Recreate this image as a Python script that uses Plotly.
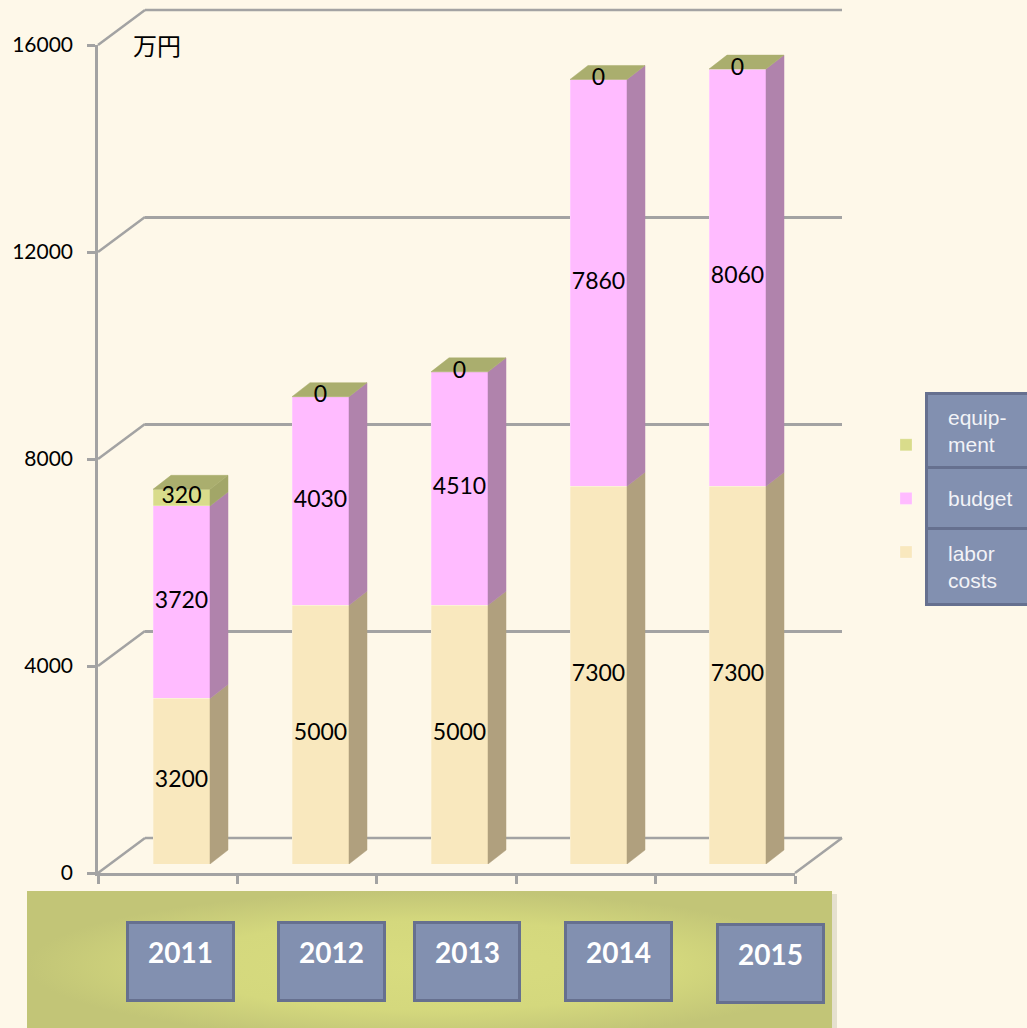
import plotly.graph_objects as go

# ---------------- data ----------------
years = ["2011", "2012", "2013", "2014", "2015"]
labor = [3200, 5000, 5000, 7300, 7300]
budget = [3720, 4030, 4510, 7860, 8060]
equipment = [320, 0, 0, 0, 0]
series_names = ["人件費", "運営費", "設備費"]
overlay_names = ["labor<br>costs", "budget", "equip-<br>ment"]
y_ticks = [0, 4000, 8000, 12000, 16000]
y_tick_text = ["0", "4000", "8000", "12000", "16000"]
unit_label = "万円"

# ---------------- geometry / style ----------------
W, H = 1027, 1028
Y_MAX = 16000
FRONT_Y0, FRONT_Y1 = 873, 45           # pixel rows of 0 and Y_MAX on the front axis
K = (FRONT_Y0 - FRONT_Y1) / Y_MAX       # px per unit
FRONT_X0, FRONT_X1 = 98, 795
BACK_X0, BACK_X1 = 145, 842
BACK_SHIFT = 35
BAR_X0, BAR_X1 = 112, 807
BAR_SHIFT = 9
BAR_W = 0.41
DEPTH_PX = (18, 14)

BG = "#FEF8E9"
GRID = "#A3A3A3"
FRONT_COLORS = ["#F9E8BE", "#FFBBFF", "#D9DC8B"]
SIDE_COLORS = ["#B0A07E", "#B083AC", "#A2A668"]
TOP_COLOR = "#AAAE6E"
BOX_FILL = "#8290B0"
BOX_LINE = "#66708F"
NUM_FONT = "Lato"


def fx(p):
    return p / W


def fy(p):
    return 1 - p / H


n = len(years)
cat_px = (BAR_X1 - BAR_X0) / n
ddx = DEPTH_PX[0] / cat_px
ddy = DEPTH_PX[1] / K
hw = BAR_W / 2
xi = list(range(n))

fig = go.Figure()

# dummy trace for back-wall subplot (gridlines)
fig.add_trace(go.Scatter(x=[None], y=[None], xaxis="x", yaxis="y",
                         showlegend=False, hoverinfo="skip"))

# ---------------- bars (front faces) ----------------
series = [labor, budget, equipment]
ranks = [3, 2, 1]
bottoms = [0] * n
label_x, label_y, label_t = [], [], []
side_traces = []
for s, vals in enumerate(series):
    fig.add_trace(go.Bar(
        x=xi, y=vals, width=BAR_W, name=series_names[s],
        marker=dict(color=FRONT_COLORS[s], line=dict(width=0.5, color="rgba(255,255,255,0.45)")),
        xaxis="x2", yaxis="y2", legendgroup=f"g{s}", legendrank=ranks[s], hoverinfo="skip",
    ))
    sx, sy = [], []
    for i, v in enumerate(vals):
        b = bottoms[i]
        t = b + v
        if v > 0:
            xr = i + hw
            sx += [xr, xr + ddx, xr + ddx, xr, xr, None]
            sy += [b, b + ddy, t + ddy, t, b, None]
        label_x.append(i)
        label_y.append(b + v / 2)
        label_t.append(str(v))
        bottoms[i] = t
    side_traces.append((sx, sy, SIDE_COLORS[s]))

for sx, sy, col in side_traces:
    fig.add_trace(go.Scatter(x=sx, y=sy, fill="toself", fillcolor=col, mode="lines",
                             line=dict(width=0.5, color=col), xaxis="x2", yaxis="y2",
                             showlegend=False, hoverinfo="skip"))

# top faces
tx, ty = [], []
for i, T in enumerate(bottoms):
    tx += [i - hw, i + hw, i + hw + ddx, i - hw + ddx, i - hw, None]
    ty += [T, T, T + ddy, T + ddy, T, None]
fig.add_trace(go.Scatter(x=tx, y=ty, fill="toself", fillcolor=TOP_COLOR, mode="lines",
                         line=dict(width=0.5, color=TOP_COLOR), xaxis="x2", yaxis="y2",
                         showlegend=False, hoverinfo="skip"))

# value labels
fig.add_trace(go.Scatter(x=label_x, y=label_y, text=label_t, mode="text",
                         textposition="middle center",
                         textfont=dict(family=NUM_FONT, size=23, color="black"),
                         xaxis="x2", yaxis="y2", showlegend=False, hoverinfo="skip",
                         cliponaxis=False))

# front axes dummy
fig.add_trace(go.Scatter(x=[None], y=[None], xaxis="x3", yaxis="y3",
                         showlegend=False, hoverinfo="skip"))

# bottom panel (pixel overlay axes)
px0, px1, py0, py1 = 27, 832, 891, 1040
fig.add_trace(go.Scatter(
    x=[px0, px1, px1, px0, px0], y=[py0, py0, py1, py1, py0],
    fill="toself", mode="lines", line=dict(width=0),
    fillgradient=dict(type="radial",
                      colorscale=[[0, "#D8DC7F"], [0.6, "#D4D87D"], [1, "#C2C577"]]),
    xaxis="x4", yaxis="y4", showlegend=False, hoverinfo="skip"))

# ---------------- shapes ----------------
shapes = []
# back-wall edge lines (bottom and top of the wall)
for v in (y_ticks[0], y_ticks[-1]):
    shapes.append(dict(type="line", xref="paper", yref="paper", layer="below",
                       x0=fx(BACK_X0), x1=fx(BACK_X1),
                       y0=fy(FRONT_Y0 - BACK_SHIFT - v * K), y1=fy(FRONT_Y0 - BACK_SHIFT - v * K),
                       line=dict(color=GRID, width=2.5)))
# left wall diagonals
for v in y_ticks:
    shapes.append(dict(type="line", xref="paper", yref="paper", layer="below",
                       x0=fx(FRONT_X0), y0=fy(FRONT_Y0 - v * K),
                       x1=fx(BACK_X0), y1=fy(FRONT_Y0 - BACK_SHIFT - v * K),
                       line=dict(color=GRID, width=2.5)))
# floor right edge
shapes.append(dict(type="line", xref="paper", yref="paper", layer="below",
                   x0=fx(FRONT_X1), y0=fy(FRONT_Y0), x1=fx(BACK_X1), y1=fy(FRONT_Y0 - BACK_SHIFT),
                   line=dict(color=GRID, width=2.5)))
# panel shadow (right/bottom)
shapes.append(dict(type="rect", xref="paper", yref="paper", layer="below",
                   x0=fx(29), x1=fx(837), y0=fy(894), y1=fy(1060),
                   fillcolor="rgba(140,140,110,0.22)", line=dict(width=0)))
# year boxes
year_boxes = [(126, 235, 921, 1002), (277, 386, 921, 1002), (413, 521, 921, 1002),
              (564, 673, 921, 1002), (716, 825, 923, 1004)]
for (x0, x1, y0, y1) in year_boxes:
    shapes.append(dict(type="rect", xref="paper", yref="paper", layer="above",
                       x0=fx(x0 + 1.5), x1=fx(x1 - 1.5), y0=fy(y0 + 1.5), y1=fy(y1 - 1.5),
                       fillcolor=BOX_FILL, line=dict(color=BOX_LINE, width=3)))

# ---------------- annotations ----------------
ann = []
ann.append(dict(text=unit_label, xref="paper", yref="paper", x=fx(131), y=fy(45),
                xanchor="left", yanchor="middle", showarrow=False,
                font=dict(family="Noto Sans CJK JP", size=24, color="black")))
for (x0, x1, y0, y1), yr in zip(year_boxes, years):
    ann.append(dict(text=yr, xref="paper", yref="paper", x=fx((x0 + x1) / 2), y=fy(y0 + 31),
                    xanchor="center", yanchor="middle", showarrow=False,
                    font=dict(family=NUM_FONT, size=28, color="white", weight="bold")))

legend_boxes = [(392, 469), (466, 530), (527, 606)]   # equipment, budget, labor
for (t, b) in legend_boxes:
    ann.append(dict(text=" ", xref="paper", yref="paper", x=fx(925), y=fy(t),
                    xanchor="left", yanchor="top", showarrow=False,
                    width=119, height=(b - t) - 6, bgcolor=BOX_FILL,
                    bordercolor=BOX_LINE, borderwidth=3, borderpad=0))
for (t, b), name in zip(legend_boxes, overlay_names[::-1]):
    ann.append(dict(text=name, xref="paper", yref="paper", x=fx(946), y=fy((t + b) / 2),
                    xanchor="left", yanchor="middle", align="left", showarrow=False,
                    font=dict(family="Liberation Sans", size=21, color="#F2F3F7")))

# ---------------- layout ----------------
hidden = dict(showgrid=False, zeroline=False, showline=False, showticklabels=False,
              ticks="", fixedrange=True, automargin=False)
fig.update_layout(
    template="none",
    width=W, height=H, autosize=False,
    margin=dict(l=0, r=0, t=0, b=0, pad=0, autoexpand=False),
    paper_bgcolor=BG, plot_bgcolor="rgba(0,0,0,0)",
    barmode="stack",
    showlegend=True,
    legend=dict(x=fx(886), y=fy(424), xanchor="left", yanchor="top",
                traceorder="grouped", tracegroupgap=22,
                bgcolor="rgba(0,0,0,0)",
                font=dict(family="Noto Sans CJK JP", size=22, color="black")),
    # back wall
    xaxis=dict(domain=[fx(BACK_X0), fx(BACK_X1)], range=[0, 1], anchor="y", **hidden),
    yaxis=dict(domain=[fy(FRONT_Y0 - BACK_SHIFT), fy(FRONT_Y1 - BACK_SHIFT)], range=[0, Y_MAX],
               anchor="x", showgrid=True, gridcolor=GRID, gridwidth=2.5, tickvals=y_ticks,
               zeroline=False, showline=False, showticklabels=False, ticks="",
               fixedrange=True, automargin=False),
    # bar plane
    xaxis2=dict(domain=[fx(BAR_X0), fx(BAR_X1)], range=[-0.5, n - 0.5], anchor="y2", **hidden),
    yaxis2=dict(domain=[fy(FRONT_Y0 - BAR_SHIFT), fy(FRONT_Y1 - BAR_SHIFT)], range=[0, Y_MAX],
                anchor="x2", **hidden),
    # front axes
    xaxis3=dict(domain=[fx(FRONT_X0), fx(FRONT_X1)], range=[-0.5, n - 0.5], anchor="y3",
                showgrid=False, zeroline=False, showline=True, linecolor=GRID, linewidth=2.5,
                ticks="outside", ticklen=8, tickwidth=2.5, tickcolor=GRID,
                tickvals=[i - 0.5 for i in range(n + 1)], showticklabels=False,
                fixedrange=True, automargin=False),
    yaxis3=dict(domain=[fy(FRONT_Y0), fy(FRONT_Y1)], range=[0, Y_MAX], anchor="x3",
                showgrid=False, zeroline=False, showline=True, linecolor=GRID, linewidth=2.5,
                ticks="outside", ticklen=8, tickwidth=2.5, tickcolor=GRID,
                tickvals=y_ticks, ticktext=y_tick_text, ticklabelstandoff=10,
                tickfont=dict(family=NUM_FONT, size=21, color="black"),
                fixedrange=True, automargin=False),
    # pixel overlay
    xaxis4=dict(domain=[0, 1], range=[0, W], anchor="y4", **hidden),
    yaxis4=dict(domain=[0, 1], range=[H, 0], anchor="x4", **hidden),
    shapes=shapes,
    annotations=ann,
)

fig.write_html("out.html")
